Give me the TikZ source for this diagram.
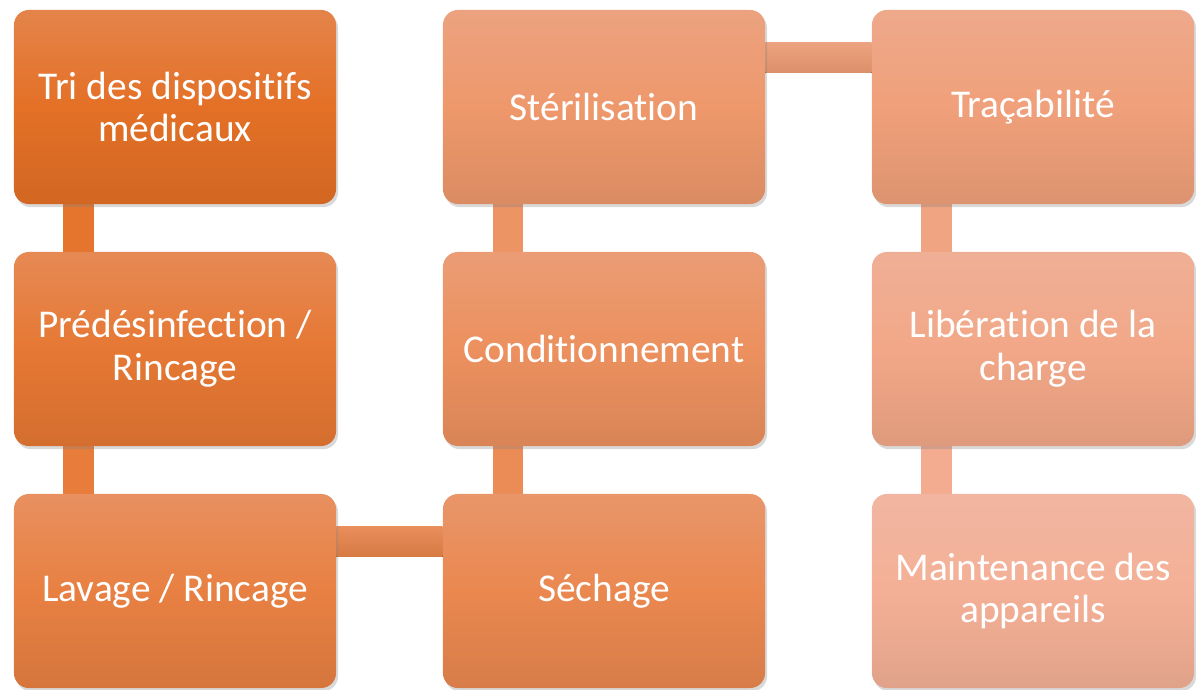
\documentclass[tikz,border=0pt]{standalone}
\usepackage{fontspec}
\setmainfont[Ligatures=NoCommon]{Carlito}
\usepackage{xcolor}
\usetikzlibrary{shadows,backgrounds}

\definecolor{orangeA}{RGB}{228,112,38}
\definecolor{saumonB}{RGB}{244,176,150}
\definecolor{voile}{RGB}{230,200,200}
\colorlet{c0}{saumonB!0!orangeA}
\colorlet{c1}{saumonB!12!orangeA}
\colorlet{c2}{saumonB!25!orangeA}
\colorlet{c3}{saumonB!37!orangeA}
\colorlet{c4}{saumonB!50!orangeA}
\colorlet{c5}{saumonB!62!orangeA}
\colorlet{c6}{saumonB!75!orangeA}
\colorlet{c7}{saumonB!87!orangeA}
\colorlet{c8}{saumonB!100!orangeA}

\tikzset{
	etape/.style={rounded corners=0.375cm, inner sep=0pt, minimum width=8.05cm, minimum height=4.85cm,
		top color=#1!78!voile, bottom color=#1!92!black, middle color=#1,
		text=white, align=center, font=\fontsize{28}{30.5}\selectfont,
		drop shadow={opacity=0.3, shadow xshift=0.05cm, shadow yshift=-0.08cm}},
	lienv/.style={fill=#1},
	lienh/.style={top color=#1!85!voile, bottom color=#1!92!black},
}

\begin{document}
\begin{tikzpicture}[x=0.025cm, y=-0.025cm]
					\useasboundingbox (0,0) rectangle (1196,690);
					%% ========================================================
					\node[etape=c0] (tri) at (175,107) {Tri des dispositifs\\médicaux};
					\node[etape=c1] (predes) at (175,349) {Prédésinfection /\\Rincage};
					\node[etape=c2] (lavage) at (175,591) {Lavage / Rincage};

					\node[etape=c3] (sechage) at (604,591) {Séchage};
					\node[etape=c4] (condit) at (604,349) {Conditionnement};
					\node[etape=c5] (steril) at (604,107) {Stérilisation};

					\node[etape=c6] (tracab) at (1033,107) {Traçabilité};
					\node[etape=c7] (liberat) at (1033,349) {Libération de la\\charge};
					\node[etape=c8] (mainten) at (1033,591) {Maintenance des\\appareils};
					%% ========================================================
					\begin{scope}[on background layer]
						\fill[lienv=c0!50!c1] ([xshift=1.225cm]tri.south west) rectangle ([xshift=2cm]predes.north west);
						\fill[lienv=c1!50!c2] ([xshift=1.225cm]predes.south west) rectangle ([xshift=2cm]lavage.north west);
						\fill[lienh=c2!50!c3] ([yshift=-0.825cm]lavage.north east) rectangle ([yshift=-1.575cm]sechage.north west);
						\fill[lienv=c3!50!c4] ([xshift=1.25cm]condit.south west) rectangle ([xshift=2cm]sechage.north west);
						\fill[lienv=c4!50!c5] ([xshift=1.25cm]steril.south west) rectangle ([xshift=2cm]condit.north west);
						\fill[lienh=c5!50!c6] ([yshift=-0.825cm]steril.north east) rectangle ([yshift=-1.575cm]tracab.north west);
						\fill[lienv=c6!50!c7] ([xshift=1.225cm]tracab.south west) rectangle ([xshift=2cm]liberat.north west);
						\fill[lienv=c7!50!c8] ([xshift=1.225cm]liberat.south west) rectangle ([xshift=2cm]mainten.north west);
					\end{scope}
					%% ========================================================
				\end{tikzpicture}
\end{document}
